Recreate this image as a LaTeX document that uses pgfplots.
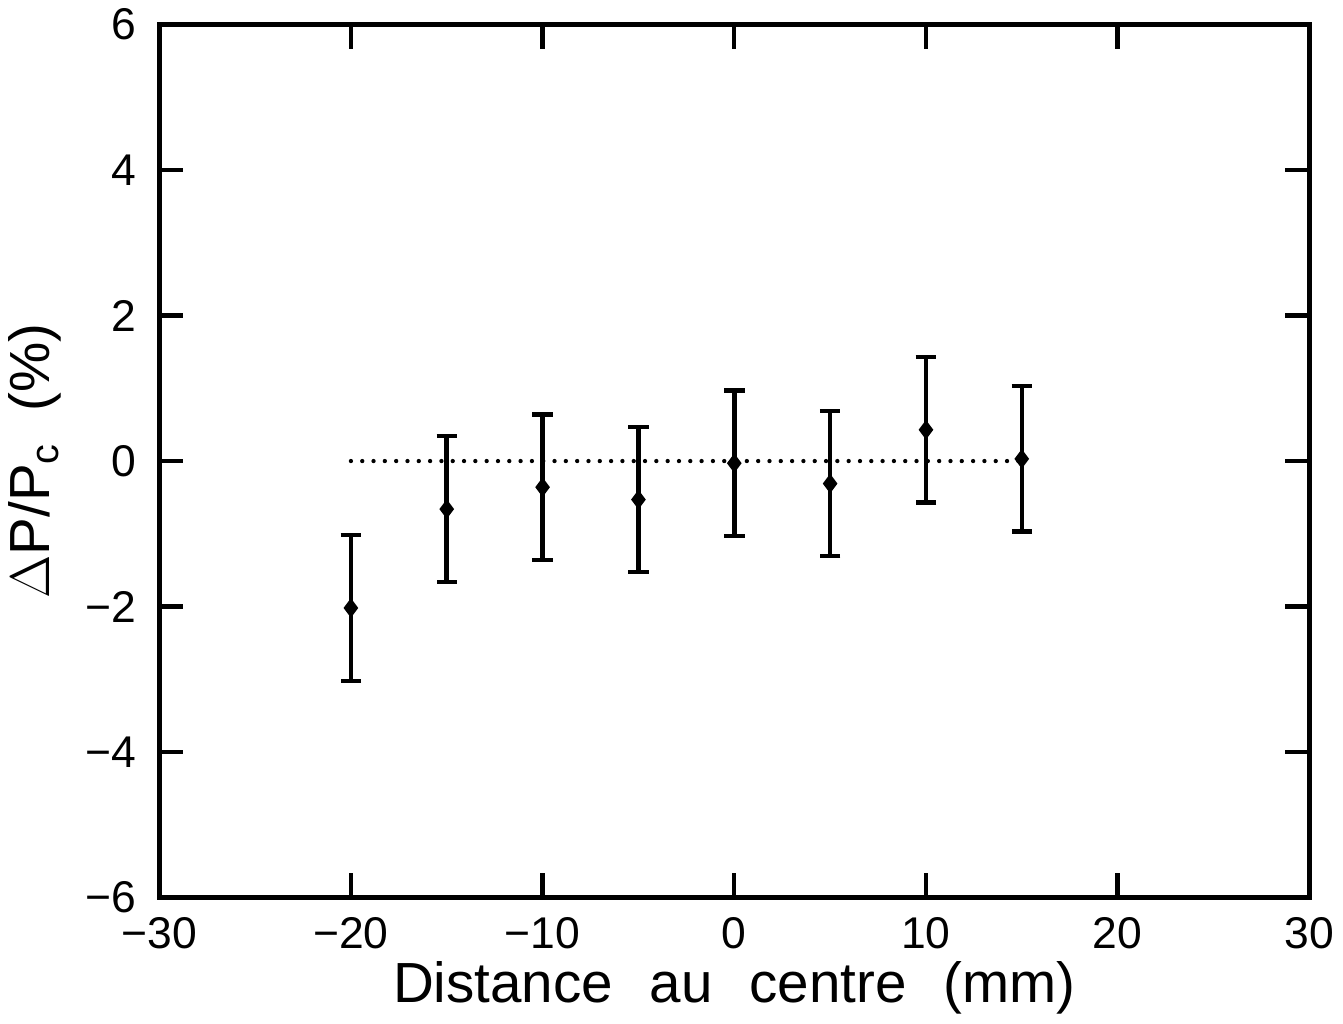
\documentclass[border=0pt]{standalone}
\usepackage{fontspec}
\setmainfont{Liberation Sans}
\usepackage{pgfplots}
\pgfplotsset{compat=1.18}
\begin{document}
\begin{tikzpicture}
\begin{axis}[
  width=427pt, height=324pt, scale only axis,
  xmin=-30, xmax=30, ymin=-6, ymax=6,
  xtick={-30,-20,...,30}, ytick={-6,-4,...,6},
  xticklabels={−30,−20,−10,0,10,20,30},
  yticklabels={−6,−4,−2,0,2,4,6},
  tick align=inside, major tick length=9pt,
  every tick/.style={line width=1.6pt, black},
  axis line style={line width=1.8pt},
  tick pos=both,
  ticklabel style={font=\fontsize{16.5}{19}\selectfont},
  xticklabel style={yshift=-4pt},
  yticklabel style={xshift=-5pt},
  xlabel={Distance\hspace{0.65em}au\hspace{0.65em}centre\hspace{0.65em}(mm)},
  ylabel={$\Delta$P/P$_{\mathrm{c}}$\hspace{0.55em}(\%)},
  label style={font=\fontsize{21}{24}\selectfont},
  xlabel style={at={(axis description cs:0.5,0)}, anchor=base, yshift=-39pt},
  ylabel style={at={([xshift=-46pt]axis description cs:0,0.5)}, anchor=center},
  clip=false,
]
\addplot[black, line width=1.6pt, dash pattern=on 0pt off 4.2pt, line cap=round] coordinates {(-20,0) (15,0)};
\addplot[black, only marks, mark=diamond*, mark size=2.8pt, line width=1pt,
  error bars/.cd, y dir=both, y explicit,
  error bar style={line width=1.7pt},
  error mark options={rotate=90, mark size=3.8pt, line width=1.6pt}]
  coordinates {
  (-20,-2.02) +- (0,1.0)
  (-15,-0.66) +- (0,1.0)
  (-10,-0.36) +- (0,1.0)
  (-5,-0.53) +- (0,1.0)
  (0,-0.03) +- (0,1.0)
  (5,-0.31) +- (0,1.0)
  (10,0.43) +- (0,1.0)
  (15,0.03) +- (0,1.0)
  };
\end{axis}
\end{tikzpicture}
\end{document}
